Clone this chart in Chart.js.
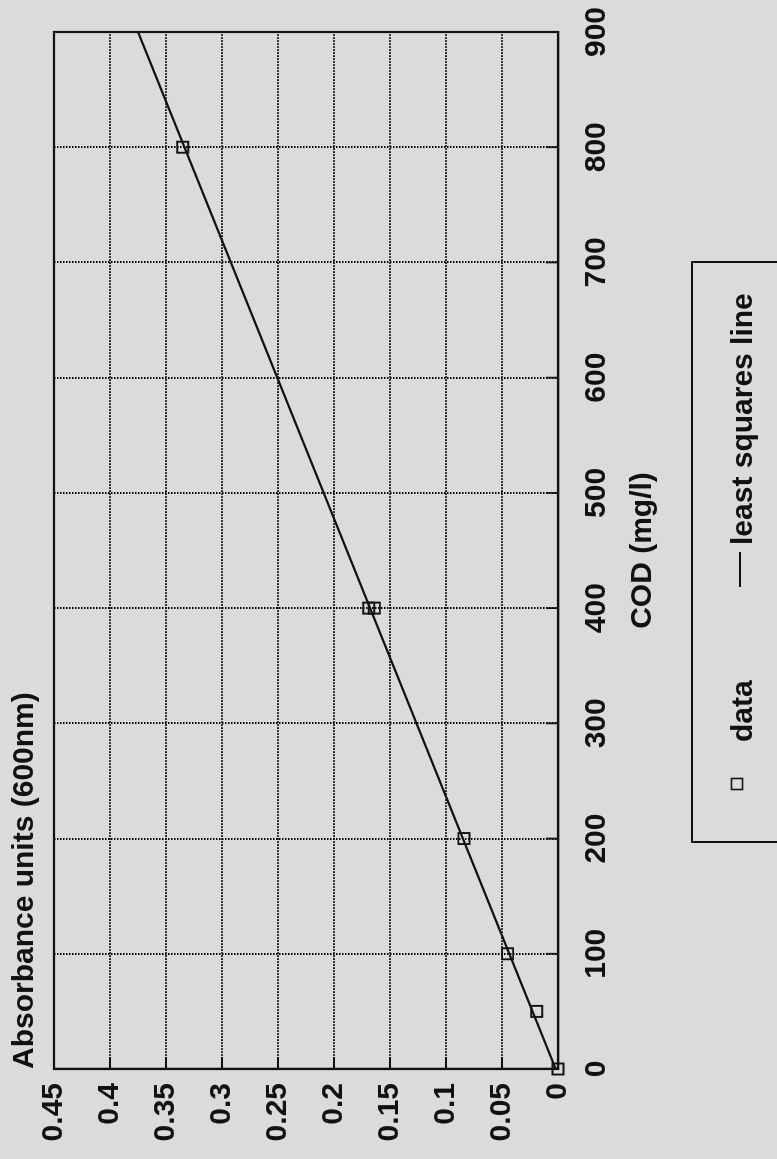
<!DOCTYPE html>
<html>
<head>
<meta charset="utf-8">
<script src="https://cdn.jsdelivr.net/npm/chart.js@4.4.0/dist/chart.umd.min.js"></script>
<style>
html, body { margin: 0; padding: 0; overflow: hidden; width: 777px; height: 1159px; background: #dbdbd9; }
#wrap { position: absolute; left: 0; top: 0; width: 1159px; height: 777px;
        transform-origin: 0 0; transform: translate(0, 1159px) rotate(-90deg); }
canvas { display: block; }
</style>
</head>
<body>
<div id="wrap"><canvas id="c" width="1159" height="777"></canvas></div>
<script>
// ---- data ----
const codData = [0, 50, 100, 200, 400, 400, 800];
const absData = [0, 0.019, 0.045, 0.084, 0.164, 0.169, 0.335];
const fitCod = [0, 900];
const fitAbs = [0.002, 0.375];
const codTickLabels = ['0', '100', '200', '300', '400', '500', '600', '700', '800', '900'];
const absTickLabels = ['0', '0.05', '0.1', '0.15', '0.2', '0.25', '0.3', '0.35', '0.4', '0.45'];
const seriesNames = ['data', 'least squares line'];
const xTitle = 'COD (mg/l)';
const yTitle = 'Absorbance units (600nm)';

const INK = '#111';
const FONT = "'Liberation Sans', Arial, Helvetica, sans-serif";

Chart.defaults.font.family = FONT;
Chart.defaults.font.size = 30;
Chart.defaults.font.weight = 'bold';
Chart.defaults.color = INK;

const frame = {
  id: 'frame',
  beforeDatasetsDraw(chart) {
    const { ctx, chartArea: a, scales: { x, y } } = chart;
    ctx.save();
    ctx.strokeStyle = INK;
    ctx.lineWidth = 1.8;
    ctx.beginPath();
    x.ticks.forEach(t => {
      const px = x.getPixelForValue(t.value);
      ctx.moveTo(px, a.bottom); ctx.lineTo(px, a.bottom - 12);
    });
    y.ticks.forEach(t => {
      const py = y.getPixelForValue(t.value);
      ctx.moveTo(a.left, py); ctx.lineTo(a.left + 12, py);
    });
    ctx.stroke();
    ctx.lineWidth = 2.2;
    ctx.strokeRect(a.left, a.top, a.right - a.left, a.bottom - a.top);
    ctx.restore();
  }
};

const boxedLegend = {
  id: 'boxedLegend',
  afterDraw(chart) {
    const { ctx } = chart;
    const ds = chart.data.datasets;
    ctx.save();
    ctx.strokeStyle = INK;
    ctx.fillStyle = INK;
    ctx.lineWidth = 2;
    ctx.strokeRect(317, 692, 580, 150);
    ctx.lineWidth = 1.6;
    ctx.strokeRect(369.5, 731.5, 11, 11);
    ctx.font = 'bold 30px ' + FONT;
    ctx.textBaseline = 'alphabetic';
    ctx.textAlign = 'left';
    ctx.fillText(ds[0].label, 417, 752);
    ctx.lineWidth = 2;
    ctx.beginPath();
    ctx.moveTo(572, 740); ctx.lineTo(607, 740);
    ctx.stroke();
    ctx.fillText(ds[1].label, 614, 752);
    ctx.restore();
  }
};

new Chart(document.getElementById('c'), {
  type: 'scatter',
  data: {
    datasets: [
      {
        label: seriesNames[0],
        data: codData.map((v, i) => ({ x: v, y: absData[i] })),
        pointStyle: 'rect',
        pointRadius: 7.8,
        pointBorderWidth: 1.9,
        pointBorderColor: INK,
        pointBackgroundColor: 'rgba(0,0,0,0)',
        borderColor: INK,
        backgroundColor: 'rgba(0,0,0,0)',
        showLine: false,
        clip: false
      },
      {
        label: seriesNames[1],
        data: fitCod.map((v, i) => ({ x: v, y: fitAbs[i] })),
        showLine: true,
        pointRadius: 0,
        borderColor: INK,
        borderWidth: 2.2,
        backgroundColor: 'rgba(0,0,0,0)',
        fill: false
      }
    ]
  },
  options: {
    responsive: false,
    animation: false,
    events: [],
    layout: { padding: { left: 0, right: 32, top: 0, bottom: 112 } },
    plugins: {
      legend: { display: false },
      tooltip: { enabled: false },
      title: {
        display: true,
        text: yTitle,
        align: 'start',
        fullSize: false,
        color: INK,
        font: { size: 30, weight: 'bold', family: FONT },
        padding: { top: 7, bottom: 11 }
      }
    },
    scales: {
      x: {
        type: 'linear',
        position: 'bottom',
        min: 0, max: 900,
        afterFit(s) { s.height = 107; s.paddingLeft = 0; s.paddingRight = 0; },
        ticks: {
          stepSize: 100,
          padding: 21,
          maxRotation: 0,
          autoSkip: false,
          color: INK,
          callback: (v, i) => codTickLabels[i]
        },
        grid: { color: '#000', lineWidth: 2, drawTicks: false },
        border: { display: true, color: INK, width: 2.2, dash: [1.5, 1.5] },
        title: {
          display: true,
          text: xTitle,
          color: INK,
          font: { size: 30, weight: 'bold', family: FONT },
          padding: { top: 10, bottom: 4 }
        }
      },
      y: {
        type: 'linear',
        min: 0, max: 0.45,
        afterFit(s) { s.width = 90; },
        ticks: {
          stepSize: 0.05,
          padding: 14,
          autoSkip: false,
          color: INK,
          callback: (v, i) => absTickLabels[i]
        },
        grid: { color: '#000', lineWidth: 2, drawTicks: false },
        border: { display: true, color: INK, width: 2.2, dash: [1.5, 1.5] }
      }
    }
  },
  plugins: [frame, boxedLegend]
});
</script>
</body>
</html>
